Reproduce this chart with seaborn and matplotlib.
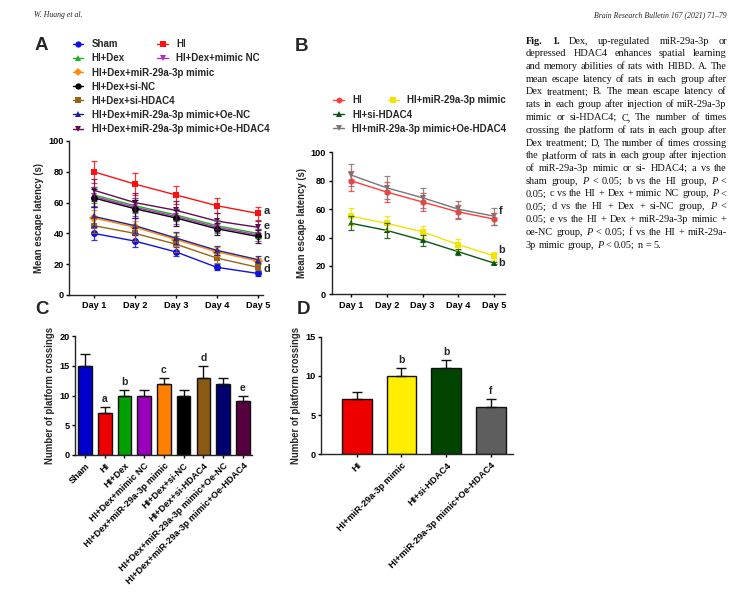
import numpy as np
import pandas as pd
import matplotlib
matplotlib.use('Agg')
import matplotlib.pyplot as plt
import seaborn as sns
from matplotlib.lines import Line2D

# ---- data ----
days = [1, 2, 3, 4, 5]
day_labels = ['Day 1', 'Day 2', 'Day 3', 'Day 4', 'Day 5']

groups_a = ['Sham', 'HI', 'HI+Dex', 'HI+Dex+mimic NC', 'HI+Dex+miR-29a-3p mimic',
            'HI+Dex+si-NC', 'HI+Dex+si-HDAC4', 'HI+Dex+miR-29a-3p mimic+Oe-NC',
            'HI+Dex+miR-29a-3p mimic+Oe-HDAC4']
lat_a = [[40, 35, 28, 18, 14],
         [80, 72, 65, 58, 53],
         [65, 58, 52, 45, 40],
         [64, 57, 51, 44, 39],
         [50, 44, 36, 28, 22],
         [63, 56, 50, 43, 38],
         [45, 40, 33, 24, 18],
         [51, 45, 37, 29, 23],
         [68, 60, 55, 48, 44]]
sd_a = [[4, 4, 3, 2, 1.5],
        [7, 7, 6, 5, 4],
        [5, 5, 4, 4, 3],
        [6, 6, 5, 4, 4],
        [5, 4, 4, 3, 2],
        [6, 6, 5, 4, 4],
        [5, 5, 5, 3, 2],
        [6, 5, 4, 3, 2],
        [7, 6, 6, 5, 4]]
letters_a = ['a', 'e', 'b', 'c', 'd']
letters_a_y = [54.5, 44.7, 38.4, 23.2, 16.7]

groups_b = ['HI', 'HI+miR-29a-3p mimic', 'HI+si-HDAC4', 'HI+miR-29a-3p mimic+Oe-HDAC4']
lat_b = [[80, 72, 65, 58, 53],
         [55, 50, 44, 35, 27],
         [50, 45, 38, 30, 22],
         [84, 75, 68, 60, 55]]
sd_b = [[7, 7, 6, 5, 4],
        [6, 5, 4, 4, 3],
        [5, 5, 4, 2, 1],
        [8, 8, 7, 6, 6]]
letters_b = ['f', 'b', 'b']
letters_b_y = [58.5, 31.2, 22.3]

cross_c = [15, 7, 10, 10, 12, 10, 13, 12, 9]
sd_c = [2, 1, 1, 1, 1, 1, 2, 1, 1]
letters_c = ['', 'a', 'b', '', 'c', '', 'd', '', 'e']

cross_d = [7, 10, 11, 6]
sd_d = [1, 1, 1, 1]
letters_d = ['', 'b', 'b', 'f']

# ---- style ----
line_cols_a = ['#1010E0', '#FF1010', '#20B020', '#B030C0', '#FF8C10',
               '#000000', '#9A6418', '#202090', '#5E0E4E']
marks_a = ['o', 's', '^', 'v', 'D', 'o', 's', '^', 'v']
bar_cols_c = ['#0000CC', '#EE0000', '#00A000', '#9900BB', '#FF8000',
              '#000000', '#8B5A13', '#000070', '#560040']
line_cols_b = ['#FF3B3B', '#F2E400', '#0B5512', '#777777']
marks_b = ['h', 's', '^', 'v']
bar_cols_d = ['#EE0000', '#FFEE00', '#004400', '#5E5E5E']

sns.set_style('ticks')
plt.rcParams['font.family'] = ['Liberation Sans', 'DejaVu Sans']
plt.rcParams['font.weight'] = 'bold'
plt.rcParams['axes.labelweight'] = 'bold'
plt.rcParams['axes.linewidth'] = 1.0
plt.rcParams['xtick.major.width'] = 1.0
plt.rcParams['ytick.major.width'] = 1.0
plt.rcParams['xtick.major.size'] = 2.5
plt.rcParams['ytick.major.size'] = 2.5
plt.rcParams['xtick.major.pad'] = 2
plt.rcParams['ytick.major.pad'] = 1.5

W, H = 749, 596
fig = plt.figure(figsize=(W / 100, H / 100), dpi=100)


def box(x0, y0, x1, y1):
    # pixel box (top-left origin) -> figure fraction rect
    return [x0 / W, 1 - y1 / H, (x1 - x0) / W, (y1 - y0) / H]


def fx(x):
    return x / W


def fy(y):
    return 1 - y / H


def style_axis(ax):
    sns.despine(ax=ax)
    ax.tick_params(labelsize=6.6, colors='black')
    for lab in ax.get_xticklabels() + ax.get_yticklabels():
        lab.set_fontweight('bold')


def line_panel(ax, groups, means, sds, cols, marks):
    rows = []
    for g, m in zip(groups, means):
        for d, v in zip(days, m):
            rows.append({'day': d, 'latency': v, 'group': g})
    df = pd.DataFrame(rows)
    sns.lineplot(data=df, x='day', y='latency', hue='group', style='group',
                 palette=dict(zip(groups, cols)), markers=dict(zip(groups, marks)),
                 dashes=False, markersize=5, markeredgewidth=0, linewidth=1,
                 legend=False, ax=ax)
    for m, s, c in zip(means, sds, cols):
        ax.errorbar(days, m, yerr=s, fmt='none', ecolor=c, elinewidth=0.9,
                    capsize=2.4, capthick=0.9, alpha=0.85)
    ax.set_ylim(0, 100)
    ax.set_yticks([0, 20, 40, 60, 80, 100])
    ax.set_xticks(days)
    ax.set_xticklabels(day_labels)
    ax.set_xlabel('')
    ax.set_ylabel('Mean escape latency (s)', fontsize=6.9, fontweight='bold', labelpad=3)
    style_axis(ax)


def bar_panel(ax, groups, vals, sds, cols, letters, ymax, step, width):
    sns.barplot(x=groups, y=vals, hue=groups, palette=cols, legend=False,
                saturation=1, width=width, edgecolor='#111111', linewidth=1, ax=ax)
    xs = np.arange(len(groups))
    ax.errorbar(xs, vals, yerr=[np.zeros(len(sds)), sds], fmt='none', ecolor='#111111',
                elinewidth=1, capsize=3.5, capthick=1)
    for x, v, s, t in zip(xs, vals, sds, letters):
        if t:
            ax.text(x, v + s + ymax * 0.025, t, ha='center', va='bottom',
                    fontsize=7.5, fontweight='bold')
    ax.set_ylim(0, ymax)
    ax.set_yticks(np.arange(0, ymax + 0.1, step))
    ax.set_ylabel('Number of platform crossings', fontsize=6.9, fontweight='bold', labelpad=3)
    style_axis(ax)
    ax.set_xticks(xs)
    ax.set_xticklabels(groups, rotation=45, ha='right', rotation_mode='anchor')


# ---- panel A ----
axa = fig.add_axes(box(69.3, 141, 263, 295))
line_panel(axa, groups_a, lat_a, sd_a, line_cols_a, marks_a)
axa.set_xlim(1 - 24.7 / 40.9, 5 + 5.3 / 40.9)
for t, y in zip(letters_a, letters_a_y):
    axa.text(5.22, y, t, ha='center', va='center', fontsize=7.8, fontweight='bold')

# ---- panel B ----
axb = fig.add_axes(box(331.7, 152.3, 505, 294.3))
line_panel(axb, groups_b, lat_b, sd_b, line_cols_b, marks_b)
axb.set_xlim(1 - 19.3 / 35.75, 5 + 11 / 35.75)
for t, y in zip(letters_b, letters_b_y):
    axb.text(5.2, y, t, ha='center', va='center', fontsize=7.8, fontweight='bold')

# ---- panel C ----
axc = fig.add_axes(box(75, 336, 251.7, 455))
bar_panel(axc, groups_a, cross_c, sd_c, bar_cols_c, letters_c, 20, 5, 0.69)
axc.set_xlim(-0.51, 8.45)

# ---- panel D ----
axd = fig.add_axes(box(321, 336.7, 513.3, 454.3))
bar_panel(axd, groups_b, cross_d, sd_d, bar_cols_d, letters_d, 15, 5, 0.67)
axd.set_xlim(-0.8, 3.5)

# ---- legends ----
def handles(cols, marks):
    return [Line2D([0], [0], color=c, marker=m, markersize=4.5, markeredgewidth=0, lw=1)
            for c, m in zip(cols, marks)]


leg_kw = dict(loc='upper left', frameon=False, fontsize=7.0, handlelength=1.1,
              handletextpad=0.85, labelspacing=0.42, borderaxespad=0, borderpad=0)
ha_ = handles(line_cols_a, marks_a)
# two-column block is filled column by column
order = [0, 2, 1, 3]
l1 = fig.legend([ha_[k] for k in order], [groups_a[k] for k in order], ncol=2,
                columnspacing=3.35, bbox_to_anchor=(fx(72.7), fy(39)), **leg_kw)
l2 = fig.legend(ha_[4:], groups_a[4:], ncol=1,
                bbox_to_anchor=(fx(72.7), fy(67.6)), **leg_kw)
hb_ = handles(line_cols_b, marks_b)
l3 = fig.legend(hb_[:2], groups_b[:2], ncol=2, columnspacing=2.7,
                bbox_to_anchor=(fx(333.3), fy(95.3)), **leg_kw)
l4 = fig.legend(hb_[2:], groups_b[2:], ncol=1,
                bbox_to_anchor=(fx(333.3), fy(109.6)), **leg_kw)

# ---- panel letters ----
for t, x, y in [('A', 41.7, 45), ('B', 301.7, 46.5), ('C', 41.7, 310), ('D', 303, 310)]:
    fig.text(fx(x), fy(y), t, ha='center', va='center', fontsize=13.5, fontweight='bold')

# ---- running header ----
fig.text(fx(34), fy(15), 'W. Huang et al.', ha='left', va='center', fontsize=5.6,
         family='Liberation Serif', style='italic', fontweight='normal')
fig.text(fx(727), fy(15), 'Brain Research Bulletin 167 (2021) 71\u201379', ha='right',
         va='center', fontsize=5.6, family='Liberation Serif', style='italic',
         fontweight='normal')

# ---- caption (justified word by word) ----
caption_lines = [
    'Fig. 1. Dex, up-regulated miR-29a-3p or',
    'depressed HDAC4 enhances spatial learning',
    'and memory abilities of rats with HIBD. A. The',
    'mean escape latency of rats in each group after',
    'Dex treatment; B. The mean escape latency of',
    'rats in each group after injection of miR-29a-3p',
    'mimic or si-HDAC4; C, The number of times',
    'crossing the platform of rats in each group after',
    'Dex treatment; D, The number of times crossing',
    'the platform of rats in each group after injection',
    'of miR-29a-3p mimic or si- HDAC4; a vs the',
    'sham group, P < 0.05; b vs the HI group, P <',
    '0.05; c vs the HI + Dex + mimic NC group, P <',
    '0.05; d vs the HI + Dex + si-NC group, P <',
    '0.05; e vs the HI + Dex + miR-29a-3p mimic +',
    'oe-NC group, P < 0.05; f vs the HI + miR-29a-',
    '3p mimic group, P < 0.05; n = 5.',
]
cap_x0, cap_x1, cap_y0, cap_dy = 526, 726.7, 41, 12.75
cap_family = 'Liberation Serif'
renderer = fig.canvas.get_renderer()


def word_style(i, j, w):
    if i == 0 and j < 2:
        return dict(fontweight='bold', style='normal')
    if w == 'P':
        return dict(fontweight='normal', style='italic')
    return dict(fontweight='normal', style='normal')


def text_w(s, size, **kw):
    t = fig.text(0, 0, s, fontsize=size, family=cap_family, **kw)
    w = t.get_window_extent(renderer).width
    t.remove()
    return w


# pick a size so that the widest line fits with ordinary word spaces
base = 7.0
widest = max(text_w(l, base, fontweight='normal') for l in caption_lines)
cap_size = min(7.4, base * (cap_x1 - cap_x0) / widest * 1.02)
space_w = text_w('x x', cap_size, fontweight='normal') - text_w('xx', cap_size, fontweight='normal')

for i, line in enumerate(caption_lines):
    words = line.split(' ')
    y = fy(cap_y0 + i * cap_dy)
    arts = []
    for j, w in enumerate(words):
        t = fig.text(0, y, w, ha='left', va='center', fontsize=cap_size,
                     family=cap_family, color='#111111', **word_style(i, j, w))
        arts.append(t)
    widths = [a.get_window_extent(renderer).width for a in arts]
    last = i == len(caption_lines) - 1
    if last or len(words) == 1:
        gap = space_w
    else:
        gap = max(1.0, (cap_x1 - cap_x0 - sum(widths)) / (len(words) - 1))
    x = cap_x0
    for a, wd in zip(arts, widths):
        a.set_x(fx(x))
        x += wd + gap

fig.savefig('out.png', dpi=100)
